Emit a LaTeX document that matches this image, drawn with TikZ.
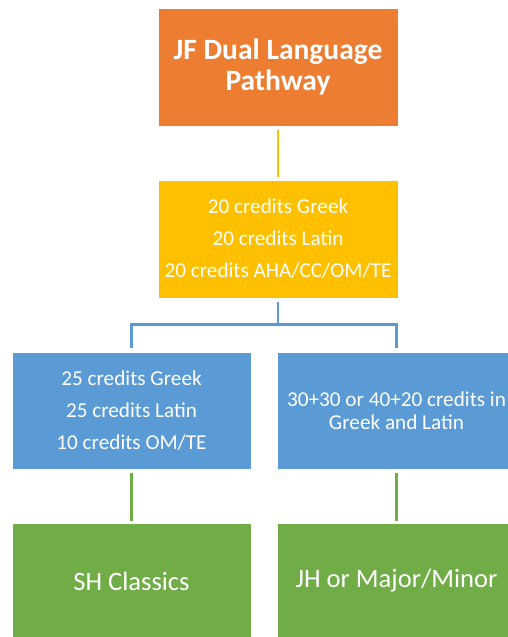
\documentclass[tikz,border=0pt]{standalone}
\usepackage{fontspec}
\setmainfont{Carlito}
\definecolor{corange}{HTML}{ED7D31}
\definecolor{cyellow}{HTML}{FFC000}
\definecolor{cblue}{HTML}{5B9BD5}
\definecolor{cgreen}{HTML}{70AD47}
\tikzset{
  box/.style={rectangle, draw=white, line width=0.8pt, text=white, align=center, inner sep=0pt},
  smallbox/.style={box, minimum width=239pt, minimum height=117pt, font=\fontsize{21.2}{32}\selectfont},
  conn/.style={line width=2.2pt},
}
\begin{document}
\begin{tikzpicture}[x=1pt,y=-1pt]
\useasboundingbox (0,0) rectangle (508,637);
\clip (0,0) rectangle (508,637);
\fill[white] (0,0) rectangle (508,637);
\node[box, fill=corange, minimum width=240pt, minimum height=118pt, font=\fontsize{29.5}{31}\selectfont\bfseries] (top) at (278,67) {JF Dual Language\\Pathway};
\node[box, fill=cyellow, minimum width=240pt, minimum height=118pt, font=\fontsize{21.2}{32}\selectfont] (jf) at (278,239) {20 credits Greek\\20 credits Latin\\20 credits AHA/CC/OM/TE};
\node[smallbox, fill=cblue] (bl) at (131.5,410.5) {25 credits Greek\\25 credits Latin\\10 credits OM/TE};
\node[smallbox, fill=cblue, font=\fontsize{21.2}{23.5}\selectfont] (br) at (396.5,410.5) {30+30 or 40+20 credits in\\Greek and Latin};
\node[smallbox, fill=cgreen, minimum height=116pt, font=\fontsize{26.6}{30}\selectfont] (gl) at (131.5,581) {SH Classics};
\node[smallbox, fill=cgreen, minimum height=116pt, font=\fontsize{26.6}{30}\selectfont] (gr) at (396.5,581) {JH or Major/Minor};
\draw[conn, cyellow, shorten <=4pt, shorten >=3pt] (top.south) -- (jf.north);
\draw[conn, cblue, shorten <=4pt, shorten >=4pt] (jf.south) -- ++(0,26) -| (bl.north);
\draw[conn, cblue, shorten <=4pt, shorten >=4pt] (jf.south) -- ++(0,26) -| (br.north);
\draw[conn, cgreen, shorten <=4pt, shorten >=2pt] (bl.south) -- (gl.north);
\draw[conn, cgreen, shorten <=4pt, shorten >=2pt] (br.south) -- (gr.north);
\end{tikzpicture}
\end{document}
